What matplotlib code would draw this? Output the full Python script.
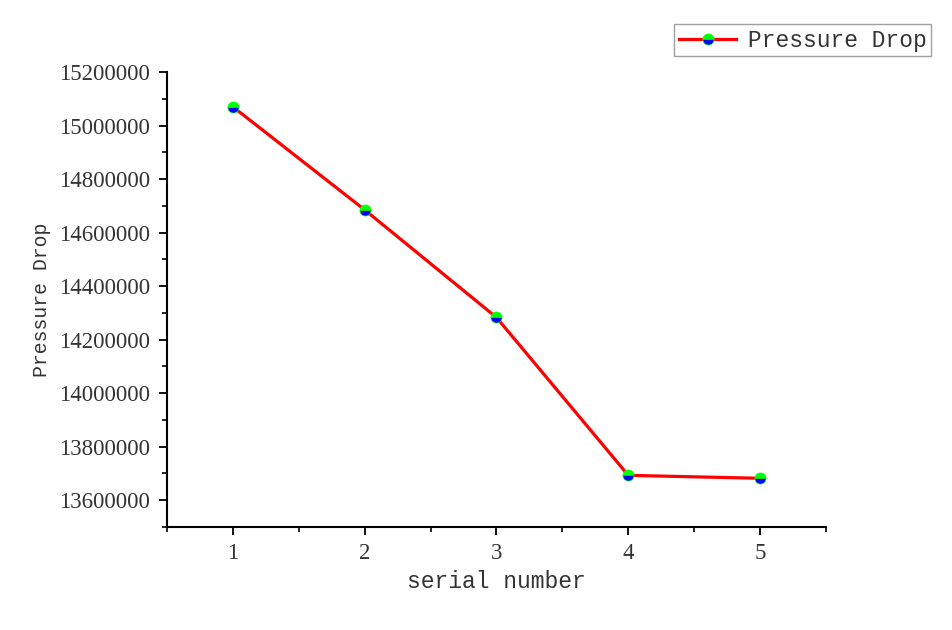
import matplotlib
matplotlib.use("Agg")
import matplotlib.pyplot as plt
from matplotlib.ticker import MultipleLocator, FuncFormatter

serial = [1, 2, 3, 4, 5]
pressure_drop = [15070000, 14685000, 14283000, 13693000, 13682000]
series_label = "Pressure Drop"
x_label = "serial number"
y_label = "Pressure Drop"

fig = plt.figure(figsize=(9.53, 6.3), dpi=100)
ax = fig.add_axes([0.1752, 0.1635, 0.8667 - 0.1752, 0.8857 - 0.1635])

ax.plot(serial, pressure_drop, color="red", linewidth=2.3,
        marker="o", markersize=8, fillstyle="top",
        markerfacecolor="#00ff00", markerfacecoloralt="#0000ff",
        markeredgecolor="#00ff00", markeredgewidth=0.5,
        label=series_label)

ax.set_xlim(0.5, 5.5)
ax.set_ylim(13500000, 15200000)
ax.xaxis.set_major_locator(MultipleLocator(1))
ax.xaxis.set_minor_locator(MultipleLocator(0.5))
ax.yaxis.set_major_locator(MultipleLocator(200000))
ax.yaxis.set_minor_locator(MultipleLocator(100000))
ax.yaxis.set_major_formatter(FuncFormatter(lambda v, p: f"{int(round(v))}"))

for s in ["top", "right"]:
    ax.spines[s].set_visible(False)
for s in ["left", "bottom"]:
    ax.spines[s].set_linewidth(1.5)

ax.tick_params(which="major", direction="out", length=6, width=1.3,
               labelsize=16.5, colors="black", labelcolor="#333333")
ax.tick_params(axis="y", which="major", pad=6)
ax.tick_params(axis="x", which="major", pad=5.5)
ax.tick_params(which="minor", direction="out", length=3.5, width=1.2)
for lab in ax.get_xticklabels() + ax.get_yticklabels():
    lab.set_fontfamily("Liberation Serif")

ax.set_xlabel(x_label, family="Liberation Mono", fontsize=16.6, color="#333333", labelpad=4)
ax.set_ylabel(y_label, family="Liberation Mono", fontsize=14.3, color="#333333", labelpad=6)

leg = fig.legend(loc="upper right", bbox_to_anchor=(0.977, 0.962),
                 prop={"family": "Liberation Mono", "size": 16.5},
                 frameon=True, fancybox=False, edgecolor="#888888",
                 handlelength=2.5, borderpad=0.2, handletextpad=0.5,
                 borderaxespad=0)
leg.get_frame().set_linewidth(1.0)
for t in leg.get_texts():
    t.set_color("#333333")

fig.savefig("out.png", dpi=100)
